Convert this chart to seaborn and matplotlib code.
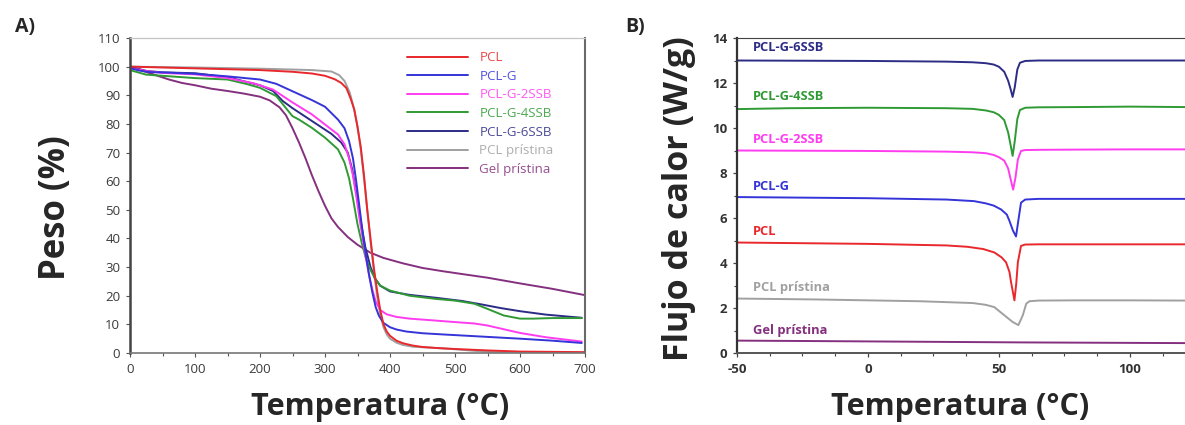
import numpy as np
import pandas as pd
import matplotlib
matplotlib.use("Agg")
import matplotlib.pyplot as plt
import seaborn as sns
from matplotlib.ticker import MultipleLocator

# ---------------- Panel A: TGA data ----------------
names = ["PCL", "PCL-G", "PCL-G-2SSB", "PCL-G-4SSB", "PCL-G-6SSB", "PCL prístina", "Gel prístina"]
colors = ["#e8282c", "#3434d8", "#ff3cf0", "#2f9a34", "#2c2c86", "#a0a0a0", "#84307e"]

tga_T_pcl = [0, 50, 100, 150, 200, 250, 280, 300, 315, 325, 333, 340, 345, 350, 355, 360, 365, 370, 375, 380, 385, 390, 395, 400, 410, 420, 435, 450, 475, 500, 550, 600, 650, 700]
tga_W_pcl = [100, 99.7, 99.4, 99.1, 98.8, 98.2, 97.6, 96.8, 95.6, 94.3, 92.5, 88.5, 85, 79, 72, 62, 50, 40, 30, 22, 15, 10, 7.5, 6, 4.3, 3.4, 2.6, 2.1, 1.7, 1.4, 0.9, 0.5, 0.4, 0.3]

tga_T_pclg = [0, 15, 30, 60, 100, 150, 200, 225, 250, 280, 300, 320, 330, 337, 343, 348, 353, 358, 363, 368, 373, 378, 383, 390, 400, 410, 425, 450, 480, 520, 560, 600, 650, 695]
tga_W_pclg = [99.5, 98.6, 98.1, 97.9, 97.5, 96.6, 95.5, 94, 91.4, 88.3, 86, 81.5, 78.5, 74, 68, 60, 51, 42, 34, 27, 21, 16, 13, 10.5, 9, 8.2, 7.5, 6.9, 6.5, 6, 5.5, 5, 4.3, 3.5]

tga_T_2ssb = [0, 25, 50, 100, 150, 190, 220, 250, 280, 300, 320, 330, 337, 343, 348, 353, 358, 363, 368, 373, 378, 385, 395, 410, 430, 460, 500, 530, 550, 575, 600, 640, 695]
tga_W_2ssb = [99.5, 98.5, 97.8, 97.3, 96, 94.2, 92, 87.5, 83.3, 79.8, 76.3, 72.9, 68, 62, 55, 47, 40, 33, 27, 22, 18, 15, 13.5, 12.6, 12, 11.5, 10.8, 10.3, 9.6, 8.3, 7, 5.5, 4]

tga_T_4ssb = [0, 25, 50, 100, 150, 180, 200, 225, 240, 250, 260, 280, 300, 320, 330, 337, 343, 350, 357, 363, 370, 377, 385, 400, 430, 470, 500, 530, 550, 575, 600, 620, 650, 695]
tga_W_4ssb = [98.8, 97.2, 96.8, 96, 95.5, 93.9, 92.6, 89.7, 85.5, 82.7, 81.5, 78.6, 75.2, 71.1, 66.5, 61, 54, 45, 38, 33, 29, 26, 23.5, 21.8, 20, 18.9, 18.3, 17.2, 15.4, 13.1, 12, 12, 12.2, 12.2]

tga_T_6ssb = [0, 25, 50, 100, 150, 200, 220, 235, 250, 270, 290, 310, 325, 335, 342, 348, 355, 362, 370, 377, 385, 400, 430, 470, 510, 540, 570, 600, 640, 695]
tga_W_6ssb = [100, 98.5, 98, 97.7, 96.3, 93.5, 91.5, 88, 85.5, 82.5, 79.5, 76.5, 73.5, 70, 64, 56, 46, 37, 30, 26, 23.5, 21.5, 20.3, 19.3, 18.2, 17, 15.7, 14.6, 13.4, 12.3]

tga_T_pclp = [0, 100, 200, 280, 310, 322, 330, 338, 345, 350, 355, 360, 365, 370, 375, 380, 385, 390, 395, 400, 410, 420, 435, 450, 475, 500, 550, 600, 650, 700]
tga_W_pclp = [100, 99.7, 99.3, 98.8, 98.3, 97, 95, 91, 85, 79, 71, 61, 50, 39, 29, 20, 13.5, 9, 6.5, 5, 3.6, 2.8, 2.2, 2.0, 1.7, 1.3, 0.4, 0.1, 0.1, 0.1]

tga_T_gel = [0, 20, 40, 60, 80, 100, 125, 150, 175, 200, 215, 230, 240, 250, 260, 270, 280, 290, 300, 310, 320, 335, 350, 370, 390, 420, 450, 480, 510, 550, 600, 650, 700]
tga_W_gel = [100, 98.5, 97, 95.5, 94.3, 93.5, 92.3, 91.5, 90.6, 89.5, 88.2, 85.8, 83, 78.5, 73.5, 68, 62, 56.5, 51.4, 47, 44, 40.5, 37.8, 35, 33.2, 31.3, 29.7, 28.6, 27.6, 26.3, 24.3, 22.4, 20.2]

tga_T = [tga_T_pcl, tga_T_pclg, tga_T_2ssb, tga_T_4ssb, tga_T_6ssb, tga_T_pclp, tga_T_gel]
tga_W = [tga_W_pcl, tga_W_pclg, tga_W_2ssb, tga_W_4ssb, tga_W_6ssb, tga_W_pclp, tga_W_gel]

# ---------------- Panel B: DSC data ----------------
dsc_T_6ssb = [-50, 0, 30, 40, 45, 48, 50, 52, 53.5, 54.5, 55.2, 56, 57, 58, 60, 65, 80, 100, 121]
dsc_H_6ssb = [13.0, 12.98, 12.95, 12.92, 12.88, 12.82, 12.72, 12.5, 12.1, 11.7, 11.38, 11.8, 12.6, 12.9, 12.98, 13.0, 13.0, 13.0, 13.0]

dsc_T_4ssb = [-50, -30, 0, 30, 40, 45, 48, 50, 52, 53.5, 54.5, 55.2, 56, 57, 58, 60, 65, 80, 100, 121]
dsc_H_4ssb = [10.84, 10.88, 10.9, 10.88, 10.85, 10.78, 10.7, 10.58, 10.35, 9.8, 9.2, 8.76, 9.4, 10.4, 10.8, 10.9, 10.92, 10.93, 10.95, 10.93]

dsc_T_2ssb = [-50, 0, 30, 40, 45, 48, 50, 52, 53.5, 54.5, 55.4, 56.3, 57.2, 58.4, 60, 65, 80, 100, 121]
dsc_H_2ssb = [9.0, 8.98, 8.95, 8.92, 8.88, 8.8, 8.7, 8.55, 8.2, 7.7, 7.26, 7.8, 8.6, 8.98, 9.02, 9.03, 9.04, 9.05, 9.05]

dsc_T_pclg = [-50, 0, 30, 40.5, 45, 48, 50.8, 53, 54, 55.3, 56.5, 57.4, 58.4, 60, 65, 80, 100, 121]
dsc_H_pclg = [6.93, 6.88, 6.82, 6.75, 6.65, 6.55, 6.38, 6.15, 5.87, 5.45, 5.18, 5.9, 6.68, 6.82, 6.85, 6.85, 6.85, 6.85]

dsc_T_pcl = [-50, 0, 30, 38, 44, 48.2, 51, 52.7, 54, 54.6, 55.9, 56.6, 57.2, 58.4, 60, 65, 80, 100, 121]
dsc_H_pcl = [4.91, 4.85, 4.78, 4.72, 4.62, 4.47, 4.25, 4.03, 3.6, 3.15, 2.34, 3.1, 4.03, 4.76, 4.82, 4.83, 4.83, 4.83, 4.83]

dsc_T_pclp = [-50, -20, 20, 40, 45, 48.2, 52, 55.2, 57.4, 59.1, 60.4, 61.6, 65, 80, 100, 121]
dsc_H_pclp = [2.42, 2.38, 2.3, 2.22, 2.14, 2.04, 1.68, 1.38, 1.24, 1.68, 2.19, 2.3, 2.33, 2.34, 2.34, 2.33]

dsc_T_gel = [-50, -20, 20, 60, 100, 121]
dsc_H_gel = [0.55, 0.53, 0.50, 0.47, 0.45, 0.44]

dsc_T = [dsc_T_pcl, dsc_T_pclg, dsc_T_2ssb, dsc_T_4ssb, dsc_T_6ssb, dsc_T_pclp, dsc_T_gel]
dsc_H = [dsc_H_pcl, dsc_H_pclg, dsc_H_2ssb, dsc_H_4ssb, dsc_H_6ssb, dsc_H_pclp, dsc_H_gel]

# vertical position of each in-plot label in panel B
dsc_label_y = [5.38, 7.38, 9.5, 11.38, 13.56, 2.93, 0.99]

sns.set_style("ticks")
plt.rcParams["font.family"] = ["Open Sans", "DejaVu Sans"]
plt.rcParams["axes.unicode_minus"] = False

W, H = 1185, 425
fig = plt.figure(figsize=(W / 100, H / 100), dpi=100)
axA = fig.add_axes([130 / W, 1 - 353 / H, 455 / W, 315 / H])
axB = fig.add_axes([737 / W, 1 - 353 / H, 448 / W, 315 / H])

draw_order = [6, 5, 4, 3, 2, 1, 0]

# ---------------- Panel A ----------------
for i in draw_order:
    df = pd.DataFrame({"T": tga_T[i], "W": tga_W[i]})
    sns.lineplot(data=df, x="T", y="W", ax=axA, color=colors[i], lw=1.4,
                 sort=False, estimator=None, label=names[i])
handles, labels = axA.get_legend_handles_labels()
hmap = dict(zip(labels, handles))
leg = axA.legend([hmap[n] for n in names], names, loc="upper left",
                 bbox_to_anchor=(0.609, 0.958), bbox_transform=axA.transAxes,
                 frameon=False, handlelength=4.6, handletextpad=0.83,
                 labelspacing=0.42, fontsize=9.6, borderpad=0, borderaxespad=0)
for t, c in zip(leg.get_texts(), colors):
    t.set_color(c)
    t.set_alpha(0.85)

axA.set_xlim(0, 700)
axA.set_ylim(0, 110)
axA.xaxis.set_major_locator(MultipleLocator(100))
axA.xaxis.set_minor_locator(MultipleLocator(50))
axA.yaxis.set_major_locator(MultipleLocator(10))
axA.tick_params(axis="both", which="major", labelsize=9.5, colors="#555555",
                labelcolor="#3a3a3a", length=3, width=0.8, pad=4)
axA.tick_params(axis="both", which="minor", colors="#555555", length=2, width=0.8)
axA.spines["top"].set_visible(True)
axA.spines["top"].set_color("#c4c4c4")
axA.spines["top"].set_linewidth(0.9)
axA.spines["right"].set_visible(True)
axA.spines["right"].set_color("#6a6a6a")
axA.spines["right"].set_linewidth(1.5)
axA.spines["left"].set_color("#444444")
axA.spines["left"].set_linewidth(1.8)
axA.spines["bottom"].set_color("#777777")
axA.spines["bottom"].set_linewidth(1.2)
axA.set_xlabel("Temperatura (°C)", fontsize=22, fontweight="bold")
axA.xaxis.set_label_coords(0.549, -0.125)
axA.set_ylabel("Peso (%)", fontsize=25, fontweight="bold")
axA.yaxis.set_label_coords(-0.123, 0.46)

# ---------------- Panel B ----------------
for i in draw_order:
    df = pd.DataFrame({"T": dsc_T[i], "H": dsc_H[i]})
    sns.lineplot(data=df, x="T", y="H", ax=axB, color=colors[i], lw=1.4,
                 sort=False, estimator=None, legend=False)
    axB.text(-43.8, dsc_label_y[i], names[i], color=colors[i], fontsize=9.3,
             fontweight="bold", ha="left", va="center")
axB.set_xlim(-50, 121)
axB.set_ylim(0, 14)
axB.xaxis.set_major_locator(MultipleLocator(50))
axB.xaxis.set_minor_locator(MultipleLocator(12.5))
axB.yaxis.set_major_locator(MultipleLocator(2))
axB.yaxis.set_minor_locator(MultipleLocator(1))
axB.tick_params(axis="both", which="major", labelsize=9.5, colors="#444444",
                labelcolor="#333333", length=3, width=0.9, pad=4)
axB.tick_params(axis="both", which="minor", colors="#444444", length=2, width=0.8)
for lbl in axB.get_xticklabels() + axB.get_yticklabels():
    lbl.set_fontweight("bold")
axB.spines["top"].set_visible(True)
axB.spines["top"].set_color("#444444")
axB.spines["right"].set_visible(False)
axB.spines["left"].set_color("#333333")
axB.spines["left"].set_linewidth(1.6)
axB.spines["bottom"].set_color("#555555")
axB.spines["bottom"].set_linewidth(1.4)
axB.set_xlabel("Temperatura (°C)", fontsize=22, fontweight="bold")
axB.xaxis.set_label_coords(0.498, -0.125)
axB.set_ylabel("Flujo de calor (W/g)", fontsize=24.5, fontweight="bold")
axB.yaxis.set_label_coords(-0.0915, 0.49)

fig.text(15 / W, 1 - 27 / H, "A)", fontsize=14, fontweight="bold", va="center", ha="left")
fig.text(625 / W, 1 - 27 / H, "B)", fontsize=14, fontweight="bold", va="center", ha="left")

fig.savefig("out.png", dpi=100)
